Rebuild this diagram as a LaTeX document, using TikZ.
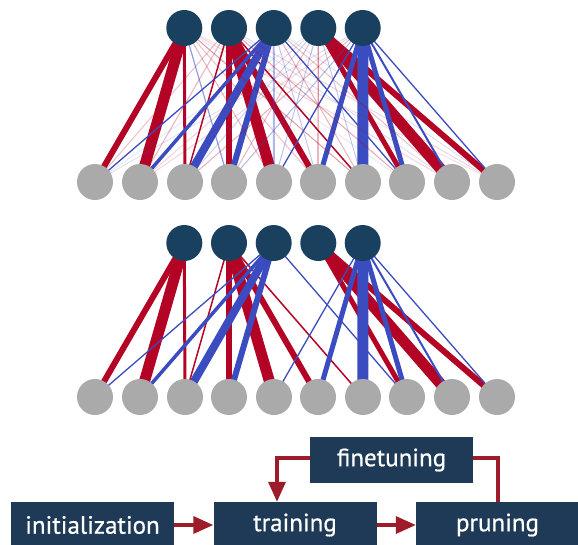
\documentclass[tikz,border=0pt]{standalone}
\usepackage{fontspec}
\setmainfont{PT Sans}
\newfontfamily\boxfont{PT Sans}[FakeBold=0.6]
\usetikzlibrary{arrows.meta}
\definecolor{topc}{HTML}{1A4060}
\definecolor{botc}{HTML}{AAAAAA}
\definecolor{boxc}{HTML}{1F3A56}
\definecolor{cwR}{HTML}{B40426}
\definecolor{cwB}{HTML}{3B4CC0}
\definecolor{arr}{HTML}{9E1B2A}
\pgfdeclarelayer{bg}
\pgfsetlayers{bg,main}
\begin{document}
\begin{tikzpicture}[x=1pt,y=-1pt,
  topn/.style={circle,fill=topc,minimum size=36pt,inner sep=0pt},
  botn/.style={circle,fill=botc,minimum size=36pt,inner sep=0pt},
  stagebox/.style={fill=boxc,text=white,minimum width=163pt,minimum height=46pt,inner sep=0pt,font=\boxfont\fontsize{25}{28}\selectfont},
  flow/.style={draw=arr,line width=3.5pt},
  flowarrow/.style={flow,-{Triangle[length=20pt,width=17pt]}},
  ]
\useasboundingbox (0,0) rectangle (578,544);
% networks
\foreach \n/\yo in {u/0,l/215}{
  \foreach \i/\x in {1/184.3,2/229,3/273.7,4/318.3,5/362.7}
    \node[topn] (\n t\i) at (\x,28+\yo) {};
  \foreach \j/\x in {1/95,2/140,3/185,4/229,5/274,6/318,7/363,8/407,9/452,10/497}
    \node[botn] (\n b\j) at (\x,182+\yo) {};
}
\begin{pgfonlayer}{bg}
% strong edges, both networks
\foreach \n in {u,l}{
  \foreach \i/\j/\w/\c in {1/1/6/cwR,1/2/11/cwR,1/3/3/cwR,
    2/3/1.5/cwR,2/4/6/cwR,2/5/11/cwR,2/6/6/cwR,2/7/1.5/cwR,
    3/1/1.3/cwB,3/2/3.5/cwB,3/3/8/cwB,3/4/6/cwB,3/8/1.3/cwB,
    4/8/5/cwR,4/9/11/cwR,4/10/6/cwR,
    5/5/1.3/cwB,5/6/5/cwB,5/7/11/cwB,5/8/5/cwB,5/9/2/cwB,5/10/1.3/cwB}
    \draw[draw=\c,line width=\w pt] (\n t\i.center) -- (\n b\j.center);
}
% faint edges, upper network only
\foreach \i/\j/\w/\c/\o in {1/4/1.2/cwB/0.55,1/5/1/cwR/0.3,1/6/1/cwR/0.25,1/7/1/cwR/0.4,1/8/0.8/cwB/0.15,1/9/0.8/cwR/0.2,1/10/0.8/cwR/0.15,
  2/1/1/cwR/0.25,2/2/1/cwR/0.3,2/8/1/cwR/0.35,2/9/0.8/cwB/0.2,2/10/0.8/cwR/0.2,
  3/5/2/cwB/0.4,3/6/1/cwB/0.3,3/7/1/cwR/0.3,3/9/1/cwR/0.25,3/10/0.8/cwB/0.2,
  4/1/0.8/cwB/0.15,4/2/0.8/cwR/0.2,4/3/1/cwB/0.25,4/4/1/cwR/0.3,4/5/1/cwB/0.35,4/6/1.2/cwR/0.45,4/7/1/cwB/0.3,
  5/1/0.8/cwB/0.2,5/2/0.8/cwR/0.2,5/3/1/cwR/0.3,5/4/1/cwB/0.4}
  \draw[draw=\c,line width=\w pt,draw opacity=\o] (ut\i.center) -- (ub\j.center);
\end{pgfonlayer}
% flow chart
\node[stagebox] (init) at (92.5,525) {initialization};
\node[stagebox] (train) at (295,525) {training};
\node[stagebox] (prune) at (497.5,525) {pruning};
\node[stagebox] (fine) at (391.5,460) {finetuning};
\draw[flowarrow] (init.east) -- (train.west);
\draw[flowarrow] (train.east) -- (prune.west);
\draw[flowarrow] (fine.west |- 0,458) -| (train.north -| 277,0);
\draw[flow] (fine.east |- 0,458) -| (prune.north -| 498,0);
\end{tikzpicture}
\end{document}
